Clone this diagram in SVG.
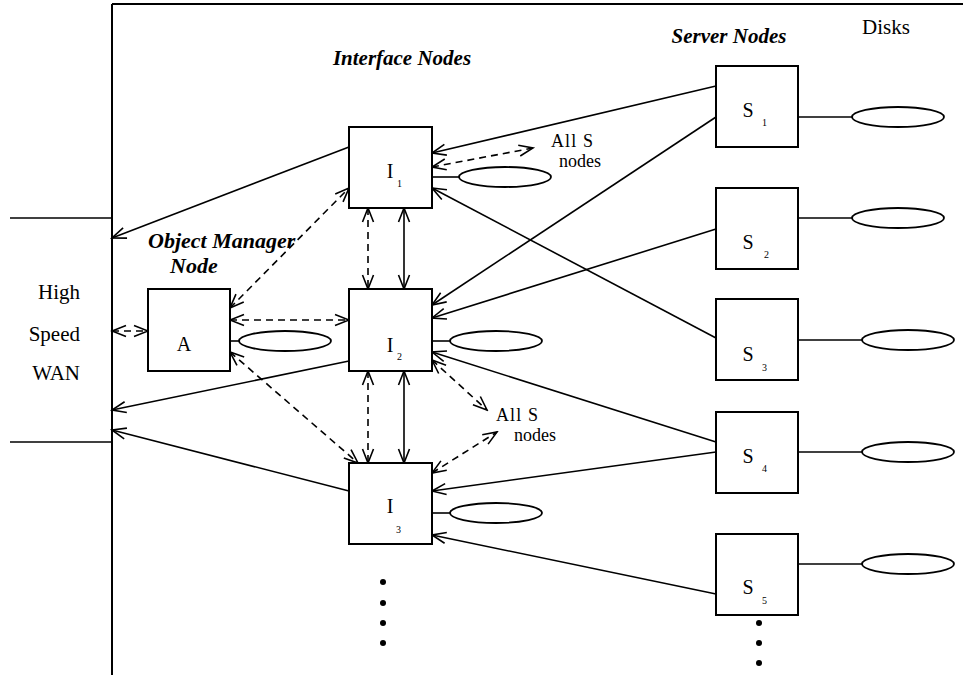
<svg xmlns="http://www.w3.org/2000/svg" width="963" height="675" viewBox="0 0 963 675">
<style>
.box{fill:#fff;stroke:#000;stroke-width:2}
.disk{fill:#fff;stroke:#000;stroke-width:1.8}
.ln{fill:none;stroke:#000;stroke-width:1.6}
.ar{fill:none;stroke:#000;stroke-width:1.6;marker-end:url(#ah)}
.ar2{fill:none;stroke:#000;stroke-width:1.6;marker-start:url(#ah);marker-end:url(#ah)}
.da{fill:none;stroke:#000;stroke-width:1.6;stroke-dasharray:7 5;marker-start:url(#ah);marker-end:url(#ah)}
.t{font-family:"Liberation Serif","Times New Roman",serif;fill:#000}
.title{font-family:"Liberation Serif","Times New Roman",serif;font-weight:bold;font-style:italic;font-size:21px;fill:#000}
</style>
<defs>
<marker id="ah" viewBox="-16 -8 18 16" refX="0" refY="0" markerWidth="18" markerHeight="16" markerUnits="userSpaceOnUse" orient="auto-start-reverse">
<path d="M-14,-5.5 L0,0 L-14,5.5" fill="none" stroke="#000" stroke-width="1.6"/>
</marker>
</defs>
<rect width="963" height="675" fill="#fff"/>

<g id="frame">
<line x1="112" y1="4" x2="963" y2="4" stroke="#000" stroke-width="2"/>
<line x1="112" y1="4" x2="112" y2="675" stroke="#000" stroke-width="2"/>
<line x1="10" y1="218" x2="112" y2="218" stroke="#000" stroke-width="1.6"/>
<line x1="10" y1="442" x2="112" y2="442" stroke="#000" stroke-width="1.6"/>
</g>

<g id="labels">
<text class="title" x="402" y="65" text-anchor="middle">Interface Nodes</text>
<text class="title" x="729" y="43" text-anchor="middle">Server Nodes</text>
<text class="t" x="862" y="34" font-size="21">Disks</text>
<text class="title" x="148" y="248" style="font-size:22px">Object Manager</text>
<text class="title" x="170" y="273" style="font-size:22px">Node</text>
<text class="t" x="80" y="299" font-size="21" text-anchor="end">High</text>
<text class="t" x="80" y="341" font-size="21" text-anchor="end">Speed</text>
<text class="t" x="80" y="380" font-size="21" text-anchor="end">WAN</text>
<text class="t" x="551" y="147" font-size="18" textLength="42" lengthAdjust="spacing">All S</text>
<text class="t" x="559" y="167" font-size="18">nodes</text>
<text class="t" x="496" y="421" font-size="18" textLength="42" lengthAdjust="spacing">All S</text>
<text class="t" x="514" y="441" font-size="18">nodes</text>
</g>

<g id="connectors">
<line class="ar" x1="349" y1="147" x2="112" y2="238"/>
<line class="ar" x1="349" y1="361" x2="112" y2="410"/>
<line class="ar" x1="349" y1="491" x2="112" y2="430"/>
<line class="ar" x1="716" y1="86" x2="432" y2="153"/>
<line class="ar" x1="716" y1="117" x2="432" y2="305"/>
<line class="ar" x1="716" y1="229" x2="432" y2="318"/>
<line class="ar" x1="716" y1="338" x2="432" y2="188"/>
<line class="ar" x1="716" y1="442" x2="432" y2="352"/>
<line class="ar" x1="716" y1="452" x2="432" y2="491"/>
<line class="ar" x1="716" y1="594" x2="432" y2="535"/>
<line class="da" x1="368" y1="208" x2="368" y2="289"/>
<line class="ar2" x1="404" y1="208" x2="404" y2="289"/>
<line class="da" x1="368" y1="371" x2="368" y2="463"/>
<line class="ar2" x1="404" y1="371" x2="404" y2="463"/>
<line class="da" x1="112" y1="331" x2="148" y2="331"/>
<line class="da" x1="230" y1="308" x2="349" y2="188"/>
<line class="da" x1="230" y1="320" x2="349" y2="320"/>
<line class="da" x1="230" y1="352" x2="358" y2="463"/>
<line class="da" x1="432" y1="167" x2="533" y2="148"/>
<line class="da" x1="432" y1="360" x2="487" y2="410"/>
<line class="da" x1="432" y1="473" x2="497" y2="432"/>
<line class="ln" x1="230" y1="341" x2="239" y2="341"/>
<line class="ln" x1="432" y1="177" x2="459" y2="177"/>
<line class="ln" x1="432" y1="341" x2="450" y2="341"/>
<line class="ln" x1="432" y1="513" x2="450" y2="513"/>
<line class="ln" x1="798" y1="117" x2="852" y2="117"/>
<line class="ln" x1="798" y1="218" x2="852" y2="218"/>
<line class="ln" x1="798" y1="340" x2="862" y2="340"/>
<line class="ln" x1="798" y1="452" x2="862" y2="452"/>
<line class="ln" x1="798" y1="564" x2="862" y2="564"/>
</g>

<g id="node-A">
<rect class="box" x="148" y="289" width="82" height="82"/>
<text class="t" x="184" y="351" text-anchor="middle" font-size="20">A</text>
<ellipse class="disk" cx="285" cy="341" rx="46" ry="10"/>
</g>

<g id="node-I1">
<rect class="box" x="349" y="127" width="83" height="81"/>
<text class="t" x="390" y="178" font-size="20" text-anchor="middle">I</text>
<text class="t" x="397" y="187" font-size="10">1</text>
<ellipse class="disk" cx="505" cy="177" rx="46" ry="10"/>
</g>
<g id="node-I2">
<rect class="box" x="349" y="289" width="83" height="82"/>
<text class="t" x="390" y="352" font-size="20" text-anchor="middle">I</text>
<text class="t" x="397" y="360" font-size="10">2</text>
<ellipse class="disk" cx="496" cy="341" rx="46" ry="10"/>
</g>
<g id="node-I3">
<rect class="box" x="349" y="463" width="83" height="81"/>
<text class="t" x="390" y="513" font-size="20" text-anchor="middle">I</text>
<text class="t" x="396" y="533" font-size="10">3</text>
<ellipse class="disk" cx="496" cy="513" rx="46" ry="10"/>
</g>

<g id="node-S1">
<rect class="box" x="716" y="66" width="82" height="81"/>
<text class="t" x="748" y="117" font-size="20" text-anchor="middle">S</text>
<text class="t" x="762" y="126" font-size="10">1</text>
<ellipse class="disk" cx="898" cy="117" rx="46" ry="10"/>
</g>
<g id="node-S2">
<rect class="box" x="716" y="188" width="82" height="81"/>
<text class="t" x="748" y="249" font-size="20" text-anchor="middle">S</text>
<text class="t" x="764" y="258" font-size="10">2</text>
<ellipse class="disk" cx="898" cy="218" rx="46" ry="10"/>
</g>
<g id="node-S3">
<rect class="box" x="716" y="299" width="82" height="81"/>
<text class="t" x="748" y="361" font-size="20" text-anchor="middle">S</text>
<text class="t" x="762" y="371" font-size="10">3</text>
<ellipse class="disk" cx="908" cy="340" rx="46" ry="10"/>
</g>
<g id="node-S4">
<rect class="box" x="716" y="412" width="82" height="81"/>
<text class="t" x="748" y="463" font-size="20" text-anchor="middle">S</text>
<text class="t" x="762" y="472" font-size="10">4</text>
<ellipse class="disk" cx="908" cy="452" rx="46" ry="10"/>
</g>
<g id="node-S5">
<rect class="box" x="716" y="534" width="82" height="81"/>
<text class="t" x="748" y="594" font-size="20" text-anchor="middle">S</text>
<text class="t" x="762" y="604" font-size="10">5</text>
<ellipse class="disk" cx="908" cy="564" rx="46" ry="10"/>
</g>

<g id="ellipsis-dots">
<circle cx="383" cy="582" r="3"/>
<circle cx="383" cy="603" r="3"/>
<circle cx="383" cy="623" r="3"/>
<circle cx="383" cy="643" r="3"/>
<circle cx="759" cy="623" r="3"/>
<circle cx="759" cy="643" r="3"/>
<circle cx="759" cy="663" r="3"/>
</g>
</svg>
